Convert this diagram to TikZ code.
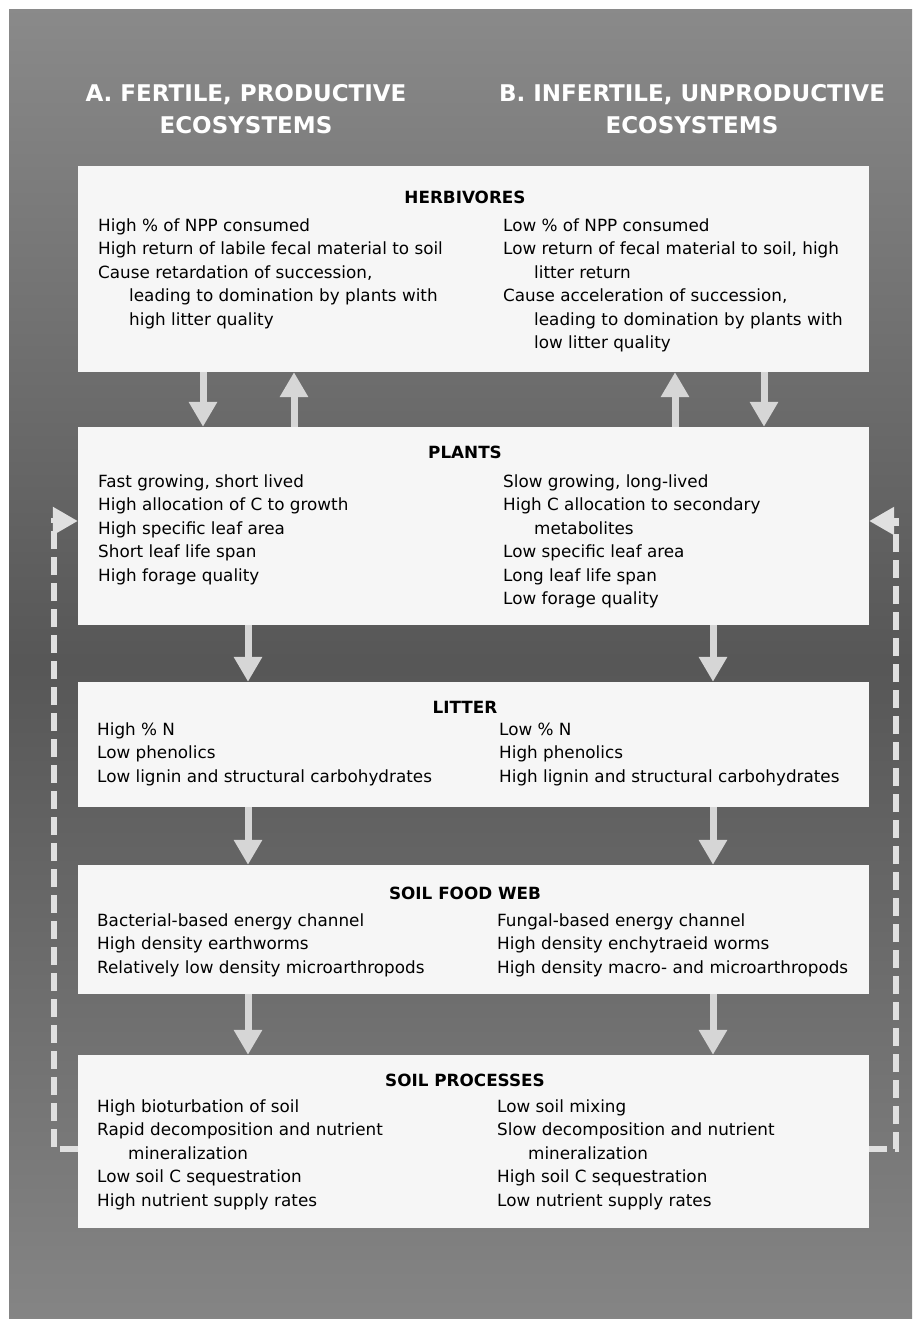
\documentclass[tikz,border=0pt]{standalone}
\usepackage{fontspec}
\setmainfont{DejaVu Sans}
\usepackage{tikz}
\usetikzlibrary{arrows.meta}
\definecolor{panelwhite}{gray}{0.965}
\definecolor{arrowgray}{gray}{0.84}
\definecolor{dashgray}{gray}{0.88}
\tikzstyle{panel} = [rectangle, fill=panelwhite, inner sep=0pt, minimum width=791pt]
\tikzstyle{heading} = [anchor=base, inner sep=0pt, font=\fontsize{16.8}{20}\selectfont\bfseries]
% multi-line nodes: anchor sits on the baseline of the last line
\tikzstyle{item} = [anchor=base west, align=left, inner sep=0pt, font=\fontsize{16.8}{23.5}\selectfont]
\tikzstyle{headline} = [anchor=base, align=center, inner sep=0pt, text=white, font=\fontsize{23}{32}\selectfont\bfseries]
\tikzstyle{pijl} = [draw=arrowgray, line width=7pt, -{Triangle[width=27pt,length=25pt]}]
\tikzstyle{terug} = [draw=dashgray, line width=5.5pt, dash pattern=on 18pt off 8pt, -{Triangle[width=27pt,length=25pt]}]

\begin{document}
\begin{tikzpicture}[x=1pt, y=-1pt]
	\useasboundingbox (0,0) rectangle (920,1319);
	\fill[white] (0,0) rectangle (920,1319);
	\shade[top color=black!46, bottom color=black!48, middle color=black!66] (9,10) rectangle (912,1318);
	
	\node [headline] (fertile) at (246,133) {A. FERTILE, PRODUCTIVE\\ECOSYSTEMS};
	\node [headline] (infertile) at (692,133) {B. INFERTILE, UNPRODUCTIVE\\ECOSYSTEMS};
	
	
	\node [panel, minimum height=206pt] (herb) at (473.5,269) {};
	\node [panel, minimum height=198pt] (plants) at (473.5,526) {};
	\node [panel, minimum height=125pt] (litter) at (473.5,744.5) {};
	\node [panel, minimum height=129pt] (foodweb) at (473.5,929.5) {};
	\node [panel, minimum height=173pt] (soilproc) at (473.5,1141.5) {};
	
	
	\node [heading] (herbtitle) at (465,203) {HERBIVORES};
	\node [item] (herbA) at (98,325) {High \% of NPP consumed\\
		High return of labile fecal material to soil\\
		Cause retardation of succession,\\
		\hspace*{31pt}leading to domination by plants with\\
		\hspace*{31pt}high litter quality};
	\node [item] (herbB) at (503,348.5) {Low \% of NPP consumed\\
		Low return of fecal material to soil, high\\
		\hspace*{31pt}litter return\\
		Cause acceleration of succession,\\
		\hspace*{31pt}leading to domination by plants with\\
		\hspace*{31pt}low litter quality};
	
	\node [heading] (plantstitle) at (465,458) {PLANTS};
	\node [item] (plantsA) at (98,581) {Fast growing, short lived\\
		High allocation of C to growth\\
		High specific leaf area\\
		Short leaf life span\\
		High forage quality};
	\node [item] (plantsB) at (503,604.5) {Slow growing, long-lived\\
		High C allocation to secondary\\
		\hspace*{31pt}metabolites\\
		Low specific leaf area\\
		Long leaf life span\\
		Low forage quality};
	
	\node [heading] (littertitle) at (465,713) {LITTER};
	\node [item] (litterA) at (97,782) {High \% N\\
		Low phenolics\\
		Low lignin and structural carbohydrates};
	\node [item] (litterB) at (499,782) {Low \% N\\
		High phenolics\\
		High lignin and structural carbohydrates};
	
	\node [heading] (foodwebtitle) at (465,899) {SOIL FOOD WEB};
	\node [item] (foodwebA) at (97,973) {Bacterial-based energy channel\\
		High density earthworms\\
		Relatively low density microarthropods};
	\node [item] (foodwebB) at (497,973) {Fungal-based energy channel\\
		High density enchytraeid worms\\
		High density macro- and microarthropods};
	
	\node [heading] (soilproctitle) at (465,1086) {SOIL PROCESSES};
	\node [item] (soilprocA) at (97,1206) {High bioturbation of soil\\
		Rapid decomposition and nutrient\\
		\hspace*{31pt}mineralization\\
		Low soil C sequestration\\
		High nutrient supply rates};
	\node [item] (soilprocB) at (497,1206) {Low soil mixing\\
		Slow decomposition and nutrient\\
		\hspace*{31pt}mineralization\\
		High soil C sequestration\\
		Low nutrient supply rates};
	
	
	\path [pijl] ([xshift=-270.5pt]herb.south)--([xshift=-270.5pt]plants.north);
	\path [pijl] ([xshift=-179.5pt]plants.north)--([xshift=-179.5pt]herb.south);
	\path [pijl] ([xshift=201.5pt]plants.north)--([xshift=201.5pt]herb.south);
	\path [pijl] ([xshift=290.5pt]herb.south)--([xshift=290.5pt]plants.north);
	
	\path [pijl] ([xshift=-225.5pt]plants.south)--([xshift=-225.5pt]litter.north);
	\path [pijl] ([xshift=239.5pt]plants.south)--([xshift=239.5pt]litter.north);
	\path [pijl] ([xshift=-225.5pt]litter.south)--([xshift=-225.5pt]foodweb.north);
	\path [pijl] ([xshift=239.5pt]litter.south)--([xshift=239.5pt]foodweb.north);
	\path [pijl] ([xshift=-225.5pt]foodweb.south)--([xshift=-225.5pt]soilproc.north);
	\path [pijl] ([xshift=239.5pt]foodweb.south)--([xshift=239.5pt]soilproc.north);
	
	
	\path [terug] ([yshift=-7.5pt]soilproc.west) -- ++(-24,0) |- ([yshift=5pt]plants.west);
	\path [terug] ([yshift=-7.5pt]soilproc.east) -- ++(27,0) |- ([yshift=5pt]plants.east);
\end{tikzpicture}
\end{document}
